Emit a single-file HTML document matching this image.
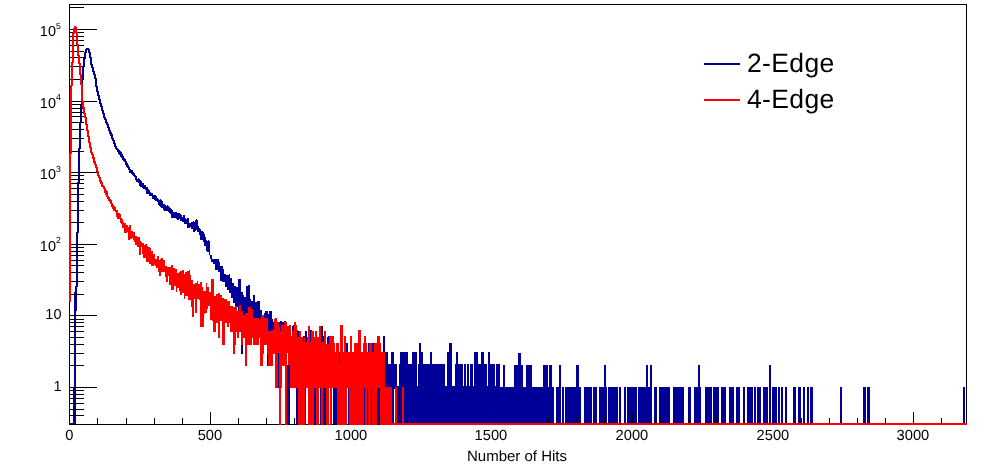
<!DOCTYPE html>
<html lang="en"><head><meta charset="utf-8"><title>Number of Hits</title>
<style>html,body{margin:0;padding:0;background:#fff;overflow:hidden}svg{display:block}</style>
</head><body>
<svg width="996" height="472" viewBox="0 0 996 472" shape-rendering="crispEdges">
<rect width="996" height="472" fill="#fff"/>
<g id="frame"><rect x="69" y="4" width="898" height="1" fill="#000"/><rect x="69" y="424" width="898" height="1" fill="#000"/><rect x="69" y="4" width="1" height="421" fill="#000"/><rect x="966" y="4" width="1" height="421" fill="#000"/></g>
<path id="h2edge" fill="#000099" d="M69 423h1v2h-1zM70 423h1v2h-1zM71 423h1v2h-1zM72 423h1v2h-1zM73 387h1v38h-1zM74 292h1v133h-1zM75 286h1v139h-1zM76 232h1v79h-1zM77 182h1v105h-1zM78 148h1v85h-1zM79 122h1v61h-1zM80 104h1v45h-1zM81 78h1v45h-1zM82 66h1v39h-1zM83 58h1v21h-1zM84 52h1v15h-1zM85 49h1v10h-1zM86 48h1v5h-1zM87 48h1v2h-1zM88 48h1v5h-1zM89 49h1v9h-1zM90 52h1v13h-1zM91 57h1v11h-1zM92 64h1v8h-1zM93 67h1v8h-1zM94 71h1v8h-1zM95 74h1v13h-1zM96 78h1v14h-1zM97 86h1v10h-1zM98 91h1v9h-1zM99 95h1v9h-1zM100 99h1v8h-1zM101 103h1v8h-1zM102 106h1v8h-1zM103 110h1v8h-1zM104 113h1v7h-1zM105 117h1v6h-1zM106 119h1v6h-1zM107 122h1v6h-1zM108 124h1v7h-1zM109 127h1v7h-1zM110 130h1v6h-1zM111 132h1v7h-1zM112 134h1v7h-1zM113 138h1v6h-1zM114 140h1v7h-1zM115 143h1v6h-1zM116 146h1v4h-1zM117 148h1v4h-1zM118 149h1v5h-1zM119 150h1v5h-1zM120 151h1v6h-1zM121 152h1v6h-1zM122 154h1v6h-1zM123 156h1v5h-1zM124 158h1v4h-1zM125 159h1v6h-1zM126 161h1v6h-1zM127 163h1v5h-1zM128 165h1v5h-1zM129 167h1v6h-1zM130 169h1v4h-1zM131 170h1v4h-1zM132 170h1v5h-1zM133 172h1v4h-1zM134 173h1v4h-1zM135 175h1v5h-1zM136 176h1v6h-1zM137 179h1v3h-1zM138 178h1v5h-1zM139 179h1v7h-1zM140 180h1v7h-1zM141 181h1v6h-1zM142 183h1v5h-1zM143 183h1v6h-1zM144 185h1v4h-1zM145 185h1v5h-1zM146 187h1v7h-1zM147 187h1v7h-1zM148 189h1v5h-1zM149 190h1v6h-1zM150 192h1v4h-1zM151 193h1v3h-1zM152 193h1v6h-1zM153 195h1v4h-1zM154 195h1v5h-1zM155 195h1v6h-1zM156 196h1v5h-1zM157 198h1v4h-1zM158 199h1v6h-1zM159 200h1v6h-1zM160 199h1v8h-1zM161 200h1v8h-1zM162 201h1v7h-1zM163 204h1v6h-1zM164 204h1v7h-1zM165 205h1v6h-1zM166 206h1v5h-1zM167 205h1v6h-1zM168 206h1v6h-1zM169 207h1v6h-1zM170 208h1v6h-1zM171 209h1v9h-1zM172 210h1v8h-1zM173 212h1v6h-1zM174 212h1v6h-1zM175 212h1v6h-1zM176 212h1v7h-1zM177 213h1v7h-1zM178 213h1v7h-1zM179 213h1v6h-1zM180 214h1v7h-1zM181 215h1v6h-1zM182 217h1v5h-1zM183 215h1v7h-1zM184 215h1v9h-1zM185 218h1v6h-1zM186 219h1v5h-1zM187 218h1v10h-1zM188 218h1v10h-1zM189 223h1v5h-1zM190 223h1v4h-1zM191 222h1v7h-1zM192 222h1v7h-1zM193 221h1v11h-1zM194 222h1v10h-1zM195 220h1v11h-1zM196 219h1v11h-1zM197 220h1v12h-1zM198 226h1v6h-1zM199 228h1v7h-1zM200 229h1v11h-1zM201 231h1v9h-1zM202 231h1v9h-1zM203 232h1v10h-1zM204 234h1v12h-1zM205 237h1v9h-1zM206 240h1v11h-1zM207 241h1v11h-1zM208 240h1v12h-1zM209 241h1v14h-1zM210 255h1v4h-1zM211 255h1v7h-1zM212 259h1v3h-1zM213 259h1v5h-1zM214 259h1v5h-1zM215 259h1v11h-1zM216 259h1v11h-1zM217 259h1v11h-1zM218 259h1v13h-1zM219 262h1v10h-1zM220 266h1v15h-1zM221 266h1v15h-1zM222 266h1v16h-1zM223 269h1v13h-1zM224 274h1v8h-1zM225 274h1v13h-1zM226 275h1v12h-1zM227 275h1v15h-1zM228 275h1v15h-1zM229 274h1v19h-1zM230 278h1v15h-1zM231 278h1v20h-1zM232 283h1v15h-1zM233 283h1v20h-1zM234 286h1v17h-1zM235 286h1v21h-1zM236 287h1v20h-1zM237 287h1v20h-1zM238 279h1v41h-1zM239 279h1v41h-1zM240 279h1v41h-1zM241 292h1v28h-1zM241 344h1v10h-1zM242 292h1v28h-1zM242 344h1v10h-1zM243 295h1v35h-1zM244 297h1v33h-1zM245 297h1v33h-1zM246 286h1v44h-1zM247 286h1v44h-1zM248 285h1v45h-1zM249 285h1v45h-1zM250 299h1v31h-1zM251 301h1v29h-1zM252 301h1v36h-1zM253 295h1v42h-1zM254 295h1v42h-1zM255 302h1v35h-1zM256 302h1v35h-1zM257 301h1v36h-1zM258 301h1v36h-1zM259 301h1v36h-1zM260 310h1v56h-1zM261 310h1v56h-1zM264 313h1v32h-1zM265 311h1v34h-1zM266 311h1v34h-1zM267 311h1v55h-1zM268 314h1v52h-1zM269 311h1v55h-1zM270 311h1v55h-1zM271 311h1v55h-1zM272 319h1v47h-1zM273 322h1v32h-1zM274 344h1v10h-1zM278 353h1v35h-1zM279 322h1v66h-1zM280 321h1v67h-1zM281 321h1v67h-1zM282 322h1v44h-1zM283 322h1v44h-1zM284 321h1v45h-1zM285 321h1v67h-1zM287 365h1v59h-1zM288 365h1v60h-1zM289 365h1v60h-1zM292 326h1v62h-1zM293 325h1v63h-1zM296 387h1v38h-1zM297 330h1v95h-1zM298 331h1v57h-1zM303 336h1v52h-1zM304 336h1v52h-1zM305 331h1v94h-1zM306 331h1v57h-1zM310 330h1v58h-1zM311 330h1v58h-1zM314 387h1v38h-1zM315 387h1v38h-1zM320 387h1v38h-1zM321 326h1v62h-1zM322 326h1v62h-1zM323 336h1v89h-1zM324 387h1v38h-1zM325 387h1v38h-1zM327 337h1v51h-1zM328 336h1v52h-1zM333 387h1v38h-1zM334 387h1v38h-1zM335 387h1v38h-1zM336 387h1v38h-1zM339 352h1v36h-1zM346 343h1v45h-1zM347 343h1v45h-1zM348 387h1v38h-1zM364 387h1v38h-1zM367 387h1v38h-1zM368 343h1v45h-1zM371 387h1v38h-1zM372 343h1v45h-1zM373 343h1v45h-1zM377 387h1v38h-1zM378 387h1v38h-1zM379 387h1v38h-1zM383 336h1v52h-1zM384 336h1v52h-1zM385 352h1v73h-1zM386 352h1v73h-1zM387 352h1v73h-1zM388 364h1v61h-1zM389 364h1v61h-1zM390 364h1v61h-1zM391 352h1v73h-1zM392 352h1v73h-1zM393 352h1v73h-1zM394 364h1v25h-1zM395 364h1v61h-1zM396 364h1v61h-1zM397 386h1v39h-1zM398 386h1v39h-1zM399 364h1v61h-1zM400 352h1v73h-1zM401 352h1v73h-1zM402 352h1v73h-1zM403 352h1v73h-1zM404 352h1v73h-1zM405 352h1v73h-1zM406 352h1v73h-1zM407 352h1v73h-1zM408 364h1v61h-1zM409 364h1v61h-1zM410 364h1v61h-1zM411 364h1v61h-1zM412 352h1v73h-1zM413 352h1v73h-1zM414 352h1v73h-1zM415 352h1v73h-1zM416 352h1v73h-1zM417 386h1v39h-1zM418 364h1v61h-1zM419 343h1v82h-1zM420 343h1v82h-1zM421 352h1v73h-1zM422 352h1v73h-1zM423 364h1v61h-1zM424 364h1v61h-1zM425 364h1v61h-1zM426 364h1v61h-1zM427 364h1v61h-1zM428 364h1v61h-1zM429 364h1v61h-1zM430 352h1v73h-1zM431 352h1v73h-1zM432 364h1v61h-1zM433 364h1v61h-1zM434 364h1v61h-1zM435 364h1v61h-1zM436 364h1v61h-1zM437 364h1v61h-1zM438 364h1v61h-1zM439 364h1v61h-1zM440 364h1v61h-1zM441 364h1v61h-1zM442 364h1v61h-1zM443 364h1v61h-1zM444 364h1v61h-1zM445 386h1v39h-1zM446 386h1v39h-1zM447 352h1v73h-1zM448 352h1v73h-1zM449 343h1v82h-1zM450 343h1v82h-1zM451 343h1v82h-1zM452 386h1v39h-1zM453 386h1v39h-1zM454 386h1v39h-1zM455 364h1v61h-1zM456 352h1v73h-1zM457 352h1v73h-1zM458 364h1v61h-1zM459 364h1v61h-1zM460 364h1v61h-1zM461 364h1v61h-1zM462 364h1v61h-1zM463 386h1v39h-1zM464 364h1v61h-1zM465 364h1v61h-1zM466 386h1v39h-1zM467 364h1v61h-1zM468 364h1v61h-1zM469 386h1v39h-1zM470 364h1v61h-1zM471 364h1v61h-1zM472 364h1v61h-1zM473 386h1v39h-1zM474 352h1v73h-1zM475 352h1v73h-1zM476 352h1v73h-1zM477 352h1v73h-1zM478 364h1v61h-1zM479 364h1v61h-1zM480 364h1v61h-1zM481 352h1v73h-1zM482 352h1v73h-1zM483 352h1v73h-1zM484 364h1v61h-1zM485 364h1v61h-1zM486 364h1v61h-1zM487 386h1v39h-1zM488 352h1v73h-1zM489 352h1v73h-1zM490 364h1v61h-1zM491 364h1v61h-1zM492 364h1v61h-1zM493 364h1v61h-1zM494 364h1v61h-1zM495 386h1v39h-1zM496 364h1v61h-1zM497 364h1v61h-1zM498 364h1v61h-1zM499 364h1v61h-1zM500 387h1v38h-1zM501 387h1v38h-1zM502 387h1v38h-1zM503 365h1v60h-1zM504 365h1v60h-1zM505 387h1v38h-1zM506 387h1v38h-1zM507 387h1v38h-1zM508 387h1v38h-1zM509 387h1v38h-1zM510 387h1v38h-1zM511 387h1v38h-1zM512 387h1v38h-1zM513 387h1v38h-1zM514 365h1v60h-1zM515 365h1v60h-1zM516 365h1v60h-1zM517 365h1v60h-1zM518 353h1v72h-1zM519 353h1v72h-1zM520 353h1v72h-1zM521 365h1v60h-1zM522 365h1v60h-1zM523 387h1v38h-1zM524 387h1v38h-1zM525 387h1v38h-1zM526 365h1v60h-1zM527 365h1v60h-1zM528 365h1v60h-1zM529 365h1v60h-1zM530 365h1v60h-1zM531 365h1v60h-1zM532 387h1v38h-1zM533 387h1v38h-1zM534 387h1v38h-1zM535 387h1v38h-1zM536 387h1v38h-1zM537 387h1v38h-1zM538 387h1v38h-1zM539 387h1v38h-1zM540 387h1v38h-1zM541 387h1v38h-1zM542 387h1v38h-1zM543 365h1v60h-1zM544 365h1v60h-1zM545 365h1v60h-1zM546 365h1v60h-1zM547 365h1v60h-1zM548 387h1v38h-1zM549 365h1v60h-1zM550 365h1v60h-1zM551 365h1v60h-1zM552 387h1v38h-1zM553 387h1v38h-1zM556 387h1v38h-1zM557 387h1v38h-1zM558 387h1v38h-1zM559 365h1v60h-1zM560 365h1v60h-1zM562 387h1v38h-1zM563 387h1v38h-1zM565 387h1v38h-1zM566 387h1v38h-1zM567 387h1v38h-1zM568 387h1v38h-1zM569 387h1v38h-1zM570 387h1v38h-1zM571 387h1v38h-1zM572 387h1v38h-1zM573 387h1v38h-1zM574 387h1v38h-1zM575 387h1v38h-1zM576 365h1v60h-1zM577 365h1v60h-1zM578 365h1v60h-1zM579 387h1v38h-1zM580 387h1v38h-1zM584 387h1v38h-1zM585 387h1v38h-1zM586 387h1v38h-1zM587 387h1v38h-1zM588 387h1v38h-1zM589 387h1v38h-1zM590 387h1v38h-1zM591 387h1v38h-1zM593 387h1v38h-1zM594 387h1v38h-1zM595 387h1v38h-1zM596 387h1v38h-1zM599 387h1v38h-1zM600 387h1v38h-1zM601 387h1v38h-1zM602 387h1v38h-1zM603 387h1v38h-1zM604 365h1v60h-1zM605 365h1v60h-1zM606 387h1v38h-1zM608 387h1v38h-1zM609 387h1v38h-1zM610 387h1v38h-1zM611 387h1v38h-1zM612 387h1v38h-1zM613 387h1v38h-1zM614 387h1v38h-1zM615 387h1v38h-1zM616 387h1v38h-1zM617 387h1v38h-1zM619 387h1v38h-1zM620 387h1v38h-1zM624 387h1v38h-1zM625 387h1v38h-1zM627 387h1v38h-1zM628 387h1v38h-1zM629 387h1v38h-1zM630 387h1v38h-1zM631 387h1v38h-1zM632 387h1v38h-1zM633 387h1v38h-1zM634 387h1v38h-1zM635 387h1v38h-1zM636 387h1v38h-1zM638 387h1v38h-1zM639 387h1v38h-1zM640 387h1v38h-1zM641 387h1v38h-1zM642 387h1v38h-1zM643 387h1v38h-1zM644 387h1v38h-1zM645 387h1v38h-1zM646 365h1v60h-1zM647 365h1v60h-1zM648 387h1v38h-1zM649 387h1v38h-1zM650 365h1v60h-1zM651 365h1v60h-1zM654 387h1v38h-1zM655 387h1v38h-1zM656 387h1v38h-1zM659 387h1v38h-1zM660 387h1v38h-1zM661 387h1v38h-1zM662 387h1v38h-1zM663 387h1v38h-1zM664 387h1v38h-1zM665 387h1v38h-1zM666 387h1v38h-1zM667 387h1v38h-1zM668 387h1v38h-1zM669 387h1v38h-1zM673 387h1v38h-1zM674 387h1v38h-1zM675 387h1v38h-1zM676 387h1v38h-1zM677 387h1v38h-1zM678 387h1v38h-1zM679 387h1v38h-1zM680 387h1v38h-1zM681 387h1v38h-1zM682 387h1v38h-1zM683 387h1v38h-1zM688 387h1v38h-1zM689 387h1v38h-1zM690 387h1v38h-1zM694 387h1v38h-1zM695 387h1v38h-1zM696 387h1v38h-1zM697 387h1v38h-1zM698 365h1v60h-1zM699 365h1v60h-1zM700 387h1v38h-1zM705 387h1v38h-1zM706 387h1v38h-1zM707 387h1v38h-1zM708 387h1v38h-1zM709 387h1v38h-1zM710 387h1v38h-1zM711 387h1v38h-1zM713 387h1v38h-1zM714 387h1v38h-1zM715 387h1v38h-1zM716 387h1v38h-1zM717 387h1v38h-1zM718 387h1v38h-1zM721 387h1v38h-1zM722 387h1v38h-1zM723 387h1v38h-1zM724 387h1v38h-1zM725 387h1v38h-1zM729 387h1v38h-1zM730 387h1v38h-1zM731 387h1v38h-1zM732 387h1v38h-1zM733 387h1v38h-1zM736 387h1v38h-1zM737 387h1v38h-1zM738 387h1v38h-1zM739 387h1v38h-1zM743 387h1v38h-1zM744 387h1v38h-1zM747 387h1v38h-1zM748 387h1v38h-1zM749 387h1v38h-1zM750 387h1v38h-1zM751 387h1v38h-1zM752 387h1v38h-1zM754 387h1v38h-1zM755 387h1v38h-1zM757 387h1v38h-1zM758 387h1v38h-1zM759 387h1v38h-1zM760 387h1v38h-1zM763 387h1v38h-1zM764 387h1v38h-1zM765 387h1v38h-1zM766 387h1v38h-1zM767 387h1v38h-1zM769 365h1v60h-1zM770 365h1v60h-1zM772 387h1v38h-1zM773 387h1v38h-1zM774 387h1v38h-1zM775 387h1v38h-1zM776 387h1v38h-1zM778 387h1v38h-1zM779 387h1v38h-1zM781 387h1v38h-1zM782 387h1v38h-1zM785 387h1v38h-1zM786 387h1v38h-1zM793 387h1v38h-1zM794 387h1v38h-1zM795 387h1v38h-1zM798 387h1v38h-1zM799 387h1v38h-1zM800 387h1v38h-1zM803 387h1v38h-1zM804 387h1v38h-1zM807 387h1v38h-1zM808 387h1v38h-1zM810 387h1v38h-1zM811 387h1v38h-1zM812 387h1v38h-1zM840 387h1v38h-1zM841 387h1v38h-1zM863 387h1v38h-1zM864 387h1v38h-1zM865 387h1v38h-1zM867 387h1v38h-1zM868 387h1v38h-1zM869 387h1v38h-1zM963 387h1v38h-1zM964 387h1v38h-1z"/>
<g id="axis"><rect x="69" y="4" width="1" height="421" fill="#000"/><rect x="69" y="424" width="898" height="1" fill="#000"/><rect x="70" y="415" width="14" height="1" fill="#000"/><rect x="70" y="409" width="14" height="1" fill="#000"/><rect x="70" y="403" width="14" height="1" fill="#000"/><rect x="70" y="398" width="14" height="1" fill="#000"/><rect x="70" y="394" width="14" height="1" fill="#000"/><rect x="70" y="390" width="14" height="1" fill="#000"/><rect x="70" y="387" width="27" height="1" fill="#000"/><rect x="70" y="365" width="14" height="1" fill="#000"/><rect x="70" y="353" width="14" height="1" fill="#000"/><rect x="70" y="344" width="14" height="1" fill="#000"/><rect x="70" y="337" width="14" height="1" fill="#000"/><rect x="70" y="331" width="14" height="1" fill="#000"/><rect x="70" y="326" width="14" height="1" fill="#000"/><rect x="70" y="322" width="14" height="1" fill="#000"/><rect x="70" y="319" width="14" height="1" fill="#000"/><rect x="70" y="315" width="27" height="1" fill="#000"/><rect x="70" y="294" width="14" height="1" fill="#000"/><rect x="70" y="281" width="14" height="1" fill="#000"/><rect x="70" y="272" width="14" height="1" fill="#000"/><rect x="70" y="265" width="14" height="1" fill="#000"/><rect x="70" y="260" width="14" height="1" fill="#000"/><rect x="70" y="255" width="14" height="1" fill="#000"/><rect x="70" y="251" width="14" height="1" fill="#000"/><rect x="70" y="247" width="14" height="1" fill="#000"/><rect x="70" y="244" width="27" height="1" fill="#000"/><rect x="70" y="222" width="14" height="1" fill="#000"/><rect x="70" y="210" width="14" height="1" fill="#000"/><rect x="70" y="201" width="14" height="1" fill="#000"/><rect x="70" y="194" width="14" height="1" fill="#000"/><rect x="70" y="188" width="14" height="1" fill="#000"/><rect x="70" y="183" width="14" height="1" fill="#000"/><rect x="70" y="179" width="14" height="1" fill="#000"/><rect x="70" y="175" width="14" height="1" fill="#000"/><rect x="70" y="172" width="27" height="1" fill="#000"/><rect x="70" y="151" width="14" height="1" fill="#000"/><rect x="70" y="138" width="14" height="1" fill="#000"/><rect x="70" y="129" width="14" height="1" fill="#000"/><rect x="70" y="122" width="14" height="1" fill="#000"/><rect x="70" y="116" width="14" height="1" fill="#000"/><rect x="70" y="112" width="14" height="1" fill="#000"/><rect x="70" y="108" width="14" height="1" fill="#000"/><rect x="70" y="104" width="14" height="1" fill="#000"/><rect x="70" y="101" width="27" height="1" fill="#000"/><rect x="70" y="79" width="14" height="1" fill="#000"/><rect x="70" y="66" width="14" height="1" fill="#000"/><rect x="70" y="57" width="14" height="1" fill="#000"/><rect x="70" y="51" width="14" height="1" fill="#000"/><rect x="70" y="45" width="14" height="1" fill="#000"/><rect x="70" y="40" width="14" height="1" fill="#000"/><rect x="70" y="36" width="14" height="1" fill="#000"/><rect x="70" y="32" width="14" height="1" fill="#000"/><rect x="70" y="29" width="27" height="1" fill="#000"/><rect x="70" y="7" width="14" height="1" fill="#000"/><rect x="69" y="412" width="1" height="12" fill="#000"/><rect x="97" y="418" width="1" height="6" fill="#000"/><rect x="126" y="418" width="1" height="6" fill="#000"/><rect x="154" y="418" width="1" height="6" fill="#000"/><rect x="182" y="418" width="1" height="6" fill="#000"/><rect x="210" y="412" width="1" height="12" fill="#000"/><rect x="238" y="418" width="1" height="6" fill="#000"/><rect x="266" y="418" width="1" height="6" fill="#000"/><rect x="294" y="418" width="1" height="6" fill="#000"/><rect x="322" y="418" width="1" height="6" fill="#000"/><rect x="351" y="412" width="1" height="12" fill="#000"/><rect x="379" y="418" width="1" height="6" fill="#000"/><rect x="407" y="418" width="1" height="6" fill="#000"/><rect x="435" y="418" width="1" height="6" fill="#000"/><rect x="463" y="418" width="1" height="6" fill="#000"/><rect x="491" y="412" width="1" height="12" fill="#000"/><rect x="519" y="418" width="1" height="6" fill="#000"/><rect x="548" y="418" width="1" height="6" fill="#000"/><rect x="576" y="418" width="1" height="6" fill="#000"/><rect x="604" y="418" width="1" height="6" fill="#000"/><rect x="632" y="412" width="1" height="12" fill="#000"/><rect x="660" y="418" width="1" height="6" fill="#000"/><rect x="688" y="418" width="1" height="6" fill="#000"/><rect x="716" y="418" width="1" height="6" fill="#000"/><rect x="744" y="418" width="1" height="6" fill="#000"/><rect x="773" y="412" width="1" height="12" fill="#000"/><rect x="801" y="418" width="1" height="6" fill="#000"/><rect x="829" y="418" width="1" height="6" fill="#000"/><rect x="857" y="418" width="1" height="6" fill="#000"/><rect x="885" y="418" width="1" height="6" fill="#000"/><rect x="913" y="412" width="1" height="12" fill="#000"/><rect x="941" y="418" width="1" height="6" fill="#000"/></g>
<path id="h4edge" fill="#ff0000" d="M69 153h1v149h-1zM70 85h1v217h-1zM71 62h1v92h-1zM72 33h1v53h-1zM73 28h1v35h-1zM74 26h1v8h-1zM75 26h1v7h-1zM76 27h1v18h-1zM77 32h1v24h-1zM78 44h1v20h-1zM79 55h1v20h-1zM80 63h1v22h-1zM81 74h1v28h-1zM82 84h1v24h-1zM83 101h1v13h-1zM84 107h1v11h-1zM85 113h1v12h-1zM86 117h1v14h-1zM87 124h1v13h-1zM88 130h1v13h-1zM89 136h1v12h-1zM90 142h1v11h-1zM91 147h1v8h-1zM92 152h1v7h-1zM93 154h1v9h-1zM94 157h1v8h-1zM95 161h1v7h-1zM96 164h1v8h-1zM97 167h1v9h-1zM98 171h1v7h-1zM99 175h1v7h-1zM100 177h1v7h-1zM101 180h1v7h-1zM102 182h1v5h-1zM103 185h1v4h-1zM104 186h1v7h-1zM105 188h1v7h-1zM106 190h1v7h-1zM107 191h1v8h-1zM108 196h1v5h-1zM109 197h1v5h-1zM110 199h1v5h-1zM111 200h1v7h-1zM112 203h1v6h-1zM113 205h1v6h-1zM114 206h1v5h-1zM115 207h1v5h-1zM116 210h1v7h-1zM117 210h1v9h-1zM118 213h1v6h-1zM119 213h1v6h-1zM120 214h1v9h-1zM121 218h1v6h-1zM122 219h1v9h-1zM123 222h1v6h-1zM124 223h1v10h-1zM125 223h1v10h-1zM126 225h1v8h-1zM127 225h1v7h-1zM128 227h1v13h-1zM129 225h1v15h-1zM130 225h1v14h-1zM131 231h1v8h-1zM132 231h1v7h-1zM133 232h1v8h-1zM134 232h1v10h-1zM135 236h1v9h-1zM136 236h1v9h-1zM137 237h1v10h-1zM138 237h1v10h-1zM139 237h1v18h-1zM140 241h1v14h-1zM141 242h1v5h-1zM142 243h1v11h-1zM143 243h1v15h-1zM144 245h1v13h-1zM145 244h1v14h-1zM146 244h1v18h-1zM147 246h1v16h-1zM148 247h1v15h-1zM149 247h1v17h-1zM150 248h1v16h-1zM151 251h1v15h-1zM152 251h1v15h-1zM153 254h1v12h-1zM154 254h1v11h-1zM155 259h1v7h-1zM156 259h1v9h-1zM157 256h1v12h-1zM158 256h1v16h-1zM159 260h1v16h-1zM160 259h1v17h-1zM161 258h1v14h-1zM162 258h1v14h-1zM163 260h1v12h-1zM164 260h1v12h-1zM165 266h1v11h-1zM166 266h1v16h-1zM167 267h1v15h-1zM168 267h1v9h-1zM169 267h1v18h-1zM170 267h1v18h-1zM171 265h1v25h-1zM172 265h1v25h-1zM173 268h1v22h-1zM174 268h1v18h-1zM175 269h1v17h-1zM176 269h1v23h-1zM177 273h1v15h-1zM178 273h1v15h-1zM179 272h1v19h-1zM180 271h1v24h-1zM181 271h1v24h-1zM182 270h1v23h-1zM183 270h1v23h-1zM184 274h1v25h-1zM185 272h1v24h-1zM186 272h1v24h-1zM187 271h1v25h-1zM188 271h1v29h-1zM189 270h1v30h-1zM190 275h1v25h-1zM191 280h1v27h-1zM192 280h1v37h-1zM193 284h1v33h-1zM194 284h1v15h-1zM195 283h1v30h-1zM196 283h1v30h-1zM197 281h1v18h-1zM198 284h1v15h-1zM199 284h1v16h-1zM200 282h1v45h-1zM201 282h1v45h-1zM202 287h1v40h-1zM203 291h1v36h-1zM204 291h1v23h-1zM205 291h1v22h-1zM206 283h1v30h-1zM207 287h1v22h-1zM208 287h1v19h-1zM209 292h1v14h-1zM210 292h1v28h-1zM211 279h1v41h-1zM212 279h1v42h-1zM213 279h1v53h-1zM214 296h1v36h-1zM215 296h1v36h-1zM216 294h1v29h-1zM217 294h1v29h-1zM218 293h1v45h-1zM219 293h1v45h-1zM220 295h1v26h-1zM221 295h1v26h-1zM222 298h1v47h-1zM223 298h1v47h-1zM224 299h1v46h-1zM225 299h1v24h-1zM226 299h1v24h-1zM227 301h1v26h-1zM228 301h1v26h-1zM229 301h1v22h-1zM230 306h1v26h-1zM231 306h1v26h-1zM232 306h1v26h-1zM233 307h1v47h-1zM234 307h1v47h-1zM235 306h1v39h-1zM236 306h1v26h-1zM237 311h1v27h-1zM238 311h1v27h-1zM239 305h1v27h-1zM240 305h1v27h-1zM241 311h1v34h-1zM242 311h1v34h-1zM243 315h1v23h-1zM244 315h1v23h-1zM245 313h1v53h-1zM246 313h1v53h-1zM247 313h1v32h-1zM248 307h1v38h-1zM249 307h1v38h-1zM250 307h1v38h-1zM251 309h1v36h-1zM252 309h1v29h-1zM253 318h1v27h-1zM254 318h1v27h-1zM255 318h1v27h-1zM256 318h1v27h-1zM257 318h1v27h-1zM258 318h1v27h-1zM259 321h1v17h-1zM260 319h1v47h-1zM261 315h1v51h-1zM262 315h1v51h-1zM263 315h1v39h-1zM264 318h1v27h-1zM265 318h1v27h-1zM266 318h1v27h-1zM267 318h1v36h-1zM268 331h1v35h-1zM269 331h1v35h-1zM270 331h1v35h-1zM271 330h1v36h-1zM272 330h1v36h-1zM273 330h1v24h-1zM274 319h1v35h-1zM275 318h1v70h-1zM276 318h1v70h-1zM277 322h1v66h-1zM278 322h1v31h-1zM279 326h1v99h-1zM280 331h1v94h-1zM281 325h1v63h-1zM282 325h1v41h-1zM283 325h1v41h-1zM284 322h1v44h-1zM285 322h1v103h-1zM286 322h1v103h-1zM287 326h1v27h-1zM288 326h1v39h-1zM289 325h1v40h-1zM290 325h1v63h-1zM291 336h1v52h-1zM292 331h1v57h-1zM293 331h1v57h-1zM294 322h1v66h-1zM295 322h1v66h-1zM296 325h1v63h-1zM297 337h1v51h-1zM298 337h1v88h-1zM299 331h1v94h-1zM300 331h1v94h-1zM301 337h1v88h-1zM302 337h1v88h-1zM303 342h1v83h-1zM304 337h1v88h-1zM305 342h1v46h-1zM306 342h1v46h-1zM307 337h1v51h-1zM308 326h1v99h-1zM309 326h1v99h-1zM310 342h1v83h-1zM311 331h1v94h-1zM312 331h1v94h-1zM313 331h1v94h-1zM314 337h1v51h-1zM315 331h1v57h-1zM316 331h1v94h-1zM317 337h1v88h-1zM318 337h1v88h-1zM319 326h1v62h-1zM320 326h1v62h-1zM321 342h1v83h-1zM322 342h1v83h-1zM323 342h1v46h-1zM324 331h1v57h-1zM325 331h1v57h-1zM326 344h1v81h-1zM327 344h1v81h-1zM328 344h1v81h-1zM329 336h1v52h-1zM330 336h1v89h-1zM331 336h1v89h-1zM332 336h1v52h-1zM333 336h1v52h-1zM334 343h1v45h-1zM335 352h1v36h-1zM336 343h1v45h-1zM337 343h1v82h-1zM338 343h1v82h-1zM339 364h1v61h-1zM340 325h1v100h-1zM341 325h1v100h-1zM342 325h1v100h-1zM343 352h1v73h-1zM344 336h1v89h-1zM345 336h1v89h-1zM346 352h1v73h-1zM347 352h1v36h-1zM348 352h1v36h-1zM349 352h1v73h-1zM350 336h1v89h-1zM351 336h1v89h-1zM352 352h1v73h-1zM353 352h1v73h-1zM354 343h1v82h-1zM355 343h1v82h-1zM356 343h1v82h-1zM357 343h1v82h-1zM358 330h1v95h-1zM359 330h1v95h-1zM360 330h1v95h-1zM361 352h1v73h-1zM362 352h1v73h-1zM363 343h1v82h-1zM364 336h1v52h-1zM365 336h1v89h-1zM366 343h1v82h-1zM367 352h1v36h-1zM368 352h1v73h-1zM369 343h1v82h-1zM370 343h1v82h-1zM371 343h1v45h-1zM372 352h1v73h-1zM373 352h1v73h-1zM374 343h1v82h-1zM375 343h1v82h-1zM376 343h1v82h-1zM377 336h1v52h-1zM378 336h1v52h-1zM379 336h1v52h-1zM380 343h1v82h-1zM381 352h1v73h-1zM382 352h1v73h-1zM383 352h1v73h-1zM384 352h1v73h-1zM385 387h1v38h-1zM386 387h1v38h-1zM387 387h1v38h-1zM388 387h1v38h-1zM389 387h1v38h-1zM390 387h1v38h-1zM391 387h1v38h-1zM392 423h1v2h-1zM393 423h1v2h-1zM394 423h1v2h-1zM395 387h1v38h-1zM396 387h1v38h-1zM397 423h1v2h-1zM398 423h1v2h-1zM399 423h1v2h-1zM400 423h1v2h-1zM401 423h1v2h-1zM402 387h1v38h-1zM403 387h1v38h-1zM404 423h1v2h-1zM405 423h1v2h-1zM406 423h1v2h-1zM407 423h1v2h-1zM408 423h1v2h-1zM409 423h1v2h-1zM410 423h1v2h-1zM411 423h1v2h-1zM412 423h1v2h-1zM413 423h1v2h-1zM414 423h1v2h-1zM415 423h1v2h-1zM416 423h1v2h-1zM417 423h1v2h-1zM418 423h1v2h-1zM419 423h1v2h-1zM420 423h1v2h-1zM421 423h1v2h-1zM422 423h1v2h-1zM423 423h1v2h-1zM424 423h1v2h-1zM425 423h1v2h-1zM426 423h1v2h-1zM427 423h1v2h-1zM428 423h1v2h-1zM429 423h1v2h-1zM430 423h1v2h-1zM431 423h1v2h-1zM432 423h1v2h-1zM433 423h1v2h-1zM434 423h1v2h-1zM435 423h1v2h-1zM436 423h1v2h-1zM437 423h1v2h-1zM438 423h1v2h-1zM439 423h1v2h-1zM440 423h1v2h-1zM441 423h1v2h-1zM442 423h1v2h-1zM443 423h1v2h-1zM444 423h1v2h-1zM445 423h1v2h-1zM446 423h1v2h-1zM447 423h1v2h-1zM448 423h1v2h-1zM449 423h1v2h-1zM450 423h1v2h-1zM451 423h1v2h-1zM452 423h1v2h-1zM453 423h1v2h-1zM454 423h1v2h-1zM455 423h1v2h-1zM456 423h1v2h-1zM457 423h1v2h-1zM458 423h1v2h-1zM459 423h1v2h-1zM460 423h1v2h-1zM461 423h1v2h-1zM462 423h1v2h-1zM463 423h1v2h-1zM464 423h1v2h-1zM465 423h1v2h-1zM466 423h1v2h-1zM467 423h1v2h-1zM468 423h1v2h-1zM469 423h1v2h-1zM470 423h1v2h-1zM471 423h1v2h-1zM472 423h1v2h-1zM473 423h1v2h-1zM474 423h1v2h-1zM475 423h1v2h-1zM476 423h1v2h-1zM477 423h1v2h-1zM478 423h1v2h-1zM479 423h1v2h-1zM480 423h1v2h-1zM481 423h1v2h-1zM482 423h1v2h-1zM483 423h1v2h-1zM484 423h1v2h-1zM485 423h1v2h-1zM486 423h1v2h-1zM487 423h1v2h-1zM488 423h1v2h-1zM489 423h1v2h-1zM490 423h1v2h-1zM491 423h1v2h-1zM492 423h1v2h-1zM493 423h1v2h-1zM494 423h1v2h-1zM495 423h1v2h-1zM496 423h1v2h-1zM497 423h1v2h-1zM498 423h1v2h-1zM499 423h1v2h-1zM500 423h1v2h-1zM501 423h1v2h-1zM502 423h1v2h-1zM503 423h1v2h-1zM504 423h1v2h-1zM505 423h1v2h-1zM506 423h1v2h-1zM507 423h1v2h-1zM508 423h1v2h-1zM509 423h1v2h-1zM510 423h1v2h-1zM511 423h1v2h-1zM512 423h1v2h-1zM513 423h1v2h-1zM514 423h1v2h-1zM515 423h1v2h-1zM516 423h1v2h-1zM517 423h1v2h-1zM518 423h1v2h-1zM519 423h1v2h-1zM520 423h1v2h-1zM521 423h1v2h-1zM522 423h1v2h-1zM523 423h1v2h-1zM524 423h1v2h-1zM525 423h1v2h-1zM526 423h1v2h-1zM527 423h1v2h-1zM528 423h1v2h-1zM529 423h1v2h-1zM530 423h1v2h-1zM531 423h1v2h-1zM532 423h1v2h-1zM533 423h1v2h-1zM534 423h1v2h-1zM535 423h1v2h-1zM536 423h1v2h-1zM537 423h1v2h-1zM538 423h1v2h-1zM539 423h1v2h-1zM540 423h1v2h-1zM541 423h1v2h-1zM542 423h1v2h-1zM543 423h1v2h-1zM544 423h1v2h-1zM545 423h1v2h-1zM546 423h1v2h-1zM547 423h1v2h-1zM548 423h1v2h-1zM549 423h1v2h-1zM550 423h1v2h-1zM551 423h1v2h-1zM552 423h1v2h-1zM553 423h1v2h-1zM554 423h1v2h-1zM555 423h1v2h-1zM556 423h1v2h-1zM557 423h1v2h-1zM558 423h1v2h-1zM559 423h1v2h-1zM560 423h1v2h-1zM561 423h1v2h-1zM562 423h1v2h-1zM563 423h1v2h-1zM564 423h1v2h-1zM565 423h1v2h-1zM566 423h1v2h-1zM567 423h1v2h-1zM568 423h1v2h-1zM569 423h1v2h-1zM570 423h1v2h-1zM571 423h1v2h-1zM572 423h1v2h-1zM573 423h1v2h-1zM574 423h1v2h-1zM575 423h1v2h-1zM576 423h1v2h-1zM577 423h1v2h-1zM578 423h1v2h-1zM579 423h1v2h-1zM580 423h1v2h-1zM581 423h1v2h-1zM582 423h1v2h-1zM583 423h1v2h-1zM584 423h1v2h-1zM585 423h1v2h-1zM586 423h1v2h-1zM587 423h1v2h-1zM588 423h1v2h-1zM589 423h1v2h-1zM590 423h1v2h-1zM591 423h1v2h-1zM592 423h1v2h-1zM593 423h1v2h-1zM594 423h1v2h-1zM595 423h1v2h-1zM596 423h1v2h-1zM597 423h1v2h-1zM598 423h1v2h-1zM599 423h1v2h-1zM600 423h1v2h-1zM601 423h1v2h-1zM602 423h1v2h-1zM603 423h1v2h-1zM604 423h1v2h-1zM605 423h1v2h-1zM606 423h1v2h-1zM607 423h1v2h-1zM608 423h1v2h-1zM609 423h1v2h-1zM610 423h1v2h-1zM611 423h1v2h-1zM612 423h1v2h-1zM613 423h1v2h-1zM614 423h1v2h-1zM615 423h1v2h-1zM616 423h1v2h-1zM617 423h1v2h-1zM618 423h1v2h-1zM619 423h1v2h-1zM620 423h1v2h-1zM621 423h1v2h-1zM622 423h1v2h-1zM623 423h1v2h-1zM624 423h1v2h-1zM625 423h1v2h-1zM626 423h1v2h-1zM627 423h1v2h-1zM628 423h1v2h-1zM629 423h1v2h-1zM630 423h1v2h-1zM631 423h1v2h-1zM632 423h1v2h-1zM633 423h1v2h-1zM634 423h1v2h-1zM635 423h1v2h-1zM636 423h1v2h-1zM637 423h1v2h-1zM638 423h1v2h-1zM639 423h1v2h-1zM640 423h1v2h-1zM641 423h1v2h-1zM642 423h1v2h-1zM643 423h1v2h-1zM644 423h1v2h-1zM645 423h1v2h-1zM646 423h1v2h-1zM647 423h1v2h-1zM648 423h1v2h-1zM649 423h1v2h-1zM650 423h1v2h-1zM651 423h1v2h-1zM652 423h1v2h-1zM653 423h1v2h-1zM654 423h1v2h-1zM655 423h1v2h-1zM656 423h1v2h-1zM657 423h1v2h-1zM658 423h1v2h-1zM659 423h1v2h-1zM660 423h1v2h-1zM661 423h1v2h-1zM662 423h1v2h-1zM663 423h1v2h-1zM664 423h1v2h-1zM665 423h1v2h-1zM666 423h1v2h-1zM667 423h1v2h-1zM668 423h1v2h-1zM669 423h1v2h-1zM670 423h1v2h-1zM671 423h1v2h-1zM672 423h1v2h-1zM673 423h1v2h-1zM674 423h1v2h-1zM675 423h1v2h-1zM676 423h1v2h-1zM677 423h1v2h-1zM678 423h1v2h-1zM679 423h1v2h-1zM680 423h1v2h-1zM681 423h1v2h-1zM682 423h1v2h-1zM683 423h1v2h-1zM684 423h1v2h-1zM685 423h1v2h-1zM686 423h1v2h-1zM687 423h1v2h-1zM688 423h1v2h-1zM689 423h1v2h-1zM690 423h1v2h-1zM691 423h1v2h-1zM692 423h1v2h-1zM693 423h1v2h-1zM694 423h1v2h-1zM695 423h1v2h-1zM696 423h1v2h-1zM697 423h1v2h-1zM698 423h1v2h-1zM699 423h1v2h-1zM700 423h1v2h-1zM701 423h1v2h-1zM702 423h1v2h-1zM703 423h1v2h-1zM704 423h1v2h-1zM705 423h1v2h-1zM706 423h1v2h-1zM707 423h1v2h-1zM708 423h1v2h-1zM709 423h1v2h-1zM710 423h1v2h-1zM711 423h1v2h-1zM712 423h1v2h-1zM713 423h1v2h-1zM714 423h1v2h-1zM715 423h1v2h-1zM716 423h1v2h-1zM717 423h1v2h-1zM718 423h1v2h-1zM719 423h1v2h-1zM720 423h1v2h-1zM721 423h1v2h-1zM722 423h1v2h-1zM723 423h1v2h-1zM724 423h1v2h-1zM725 423h1v2h-1zM726 423h1v2h-1zM727 423h1v2h-1zM728 423h1v2h-1zM729 423h1v2h-1zM730 423h1v2h-1zM731 423h1v2h-1zM732 423h1v2h-1zM733 423h1v2h-1zM734 423h1v2h-1zM735 423h1v2h-1zM736 423h1v2h-1zM737 423h1v2h-1zM738 423h1v2h-1zM739 423h1v2h-1zM740 423h1v2h-1zM741 423h1v2h-1zM742 423h1v2h-1zM743 423h1v2h-1zM744 423h1v2h-1zM745 423h1v2h-1zM746 423h1v2h-1zM747 423h1v2h-1zM748 423h1v2h-1zM749 423h1v2h-1zM750 423h1v2h-1zM751 423h1v2h-1zM752 423h1v2h-1zM753 423h1v2h-1zM754 423h1v2h-1zM755 423h1v2h-1zM756 423h1v2h-1zM757 423h1v2h-1zM758 423h1v2h-1zM759 423h1v2h-1zM760 423h1v2h-1zM761 423h1v2h-1zM762 423h1v2h-1zM763 423h1v2h-1zM764 423h1v2h-1zM765 423h1v2h-1zM766 423h1v2h-1zM767 423h1v2h-1zM768 423h1v2h-1zM769 423h1v2h-1zM770 423h1v2h-1zM771 423h1v2h-1zM772 423h1v2h-1zM773 423h1v2h-1zM774 423h1v2h-1zM775 423h1v2h-1zM776 423h1v2h-1zM777 423h1v2h-1zM778 423h1v2h-1zM779 423h1v2h-1zM780 423h1v2h-1zM781 423h1v2h-1zM782 423h1v2h-1zM783 423h1v2h-1zM784 423h1v2h-1zM785 423h1v2h-1zM786 423h1v2h-1zM787 423h1v2h-1zM788 423h1v2h-1zM789 423h1v2h-1zM790 423h1v2h-1zM791 423h1v2h-1zM792 423h1v2h-1zM793 423h1v2h-1zM794 423h1v2h-1zM795 423h1v2h-1zM796 423h1v2h-1zM797 423h1v2h-1zM798 423h1v2h-1zM799 423h1v2h-1zM800 423h1v2h-1zM801 423h1v2h-1zM802 423h1v2h-1zM803 423h1v2h-1zM804 423h1v2h-1zM805 423h1v2h-1zM806 423h1v2h-1zM807 423h1v2h-1zM808 423h1v2h-1zM809 423h1v2h-1zM810 423h1v2h-1zM811 423h1v2h-1zM812 423h1v2h-1zM813 423h1v2h-1zM814 423h1v2h-1zM815 423h1v2h-1zM816 423h1v2h-1zM817 423h1v2h-1zM818 423h1v2h-1zM819 423h1v2h-1zM820 423h1v2h-1zM821 423h1v2h-1zM822 423h1v2h-1zM823 423h1v2h-1zM824 423h1v2h-1zM825 423h1v2h-1zM826 423h1v2h-1zM827 423h1v2h-1zM828 423h1v2h-1zM829 423h1v2h-1zM830 423h1v2h-1zM831 423h1v2h-1zM832 423h1v2h-1zM833 423h1v2h-1zM834 423h1v2h-1zM835 423h1v2h-1zM836 423h1v2h-1zM837 423h1v2h-1zM838 423h1v2h-1zM839 423h1v2h-1zM840 423h1v2h-1zM841 423h1v2h-1zM842 423h1v2h-1zM843 423h1v2h-1zM844 423h1v2h-1zM845 423h1v2h-1zM846 423h1v2h-1zM847 423h1v2h-1zM848 423h1v2h-1zM849 423h1v2h-1zM850 423h1v2h-1zM851 423h1v2h-1zM852 423h1v2h-1zM853 423h1v2h-1zM854 423h1v2h-1zM855 423h1v2h-1zM856 423h1v2h-1zM857 423h1v2h-1zM858 423h1v2h-1zM859 423h1v2h-1zM860 423h1v2h-1zM861 423h1v2h-1zM862 423h1v2h-1zM863 423h1v2h-1zM864 423h1v2h-1zM865 423h1v2h-1zM866 423h1v2h-1zM867 423h1v2h-1zM868 423h1v2h-1zM869 423h1v2h-1zM870 423h1v2h-1zM871 423h1v2h-1zM872 423h1v2h-1zM873 423h1v2h-1zM874 423h1v2h-1zM875 423h1v2h-1zM876 423h1v2h-1zM877 423h1v2h-1zM878 423h1v2h-1zM879 423h1v2h-1zM880 423h1v2h-1zM881 423h1v2h-1zM882 423h1v2h-1zM883 423h1v2h-1zM884 423h1v2h-1zM885 423h1v2h-1zM886 423h1v2h-1zM887 423h1v2h-1zM888 423h1v2h-1zM889 423h1v2h-1zM890 423h1v2h-1zM891 423h1v2h-1zM892 423h1v2h-1zM893 423h1v2h-1zM894 423h1v2h-1zM895 423h1v2h-1zM896 423h1v2h-1zM897 423h1v2h-1zM898 423h1v2h-1zM899 423h1v2h-1zM900 423h1v2h-1zM901 423h1v2h-1zM902 423h1v2h-1zM903 423h1v2h-1zM904 423h1v2h-1zM905 423h1v2h-1zM906 423h1v2h-1zM907 423h1v2h-1zM908 423h1v2h-1zM909 423h1v2h-1zM910 423h1v2h-1zM911 423h1v2h-1zM912 423h1v2h-1zM913 423h1v2h-1zM914 423h1v2h-1zM915 423h1v2h-1zM916 423h1v2h-1zM917 423h1v2h-1zM918 423h1v2h-1zM919 423h1v2h-1zM920 423h1v2h-1zM921 423h1v2h-1zM922 423h1v2h-1zM923 423h1v2h-1zM924 423h1v2h-1zM925 423h1v2h-1zM926 423h1v2h-1zM927 423h1v2h-1zM928 423h1v2h-1zM929 423h1v2h-1zM930 423h1v2h-1zM931 423h1v2h-1zM932 423h1v2h-1zM933 423h1v2h-1zM934 423h1v2h-1zM935 423h1v2h-1zM936 423h1v2h-1zM937 423h1v2h-1zM938 423h1v2h-1zM939 423h1v2h-1zM940 423h1v2h-1zM941 423h1v2h-1zM942 423h1v2h-1zM943 423h1v2h-1zM944 423h1v2h-1zM945 423h1v2h-1zM946 423h1v2h-1zM947 423h1v2h-1zM948 423h1v2h-1zM949 423h1v2h-1zM950 423h1v2h-1zM951 423h1v2h-1zM952 423h1v2h-1zM953 423h1v2h-1zM954 423h1v2h-1zM955 423h1v2h-1zM956 423h1v2h-1zM957 423h1v2h-1zM958 423h1v2h-1zM959 423h1v2h-1zM960 423h1v2h-1zM961 423h1v2h-1zM962 423h1v2h-1zM963 423h1v2h-1zM964 423h1v2h-1zM965 423h1v2h-1zM966 423h1v2h-1z"/>
<g id="legend"><rect x="704" y="63" width="36" height="2" fill="#000099"/><rect x="704" y="99" width="36" height="2" fill="#ff0000"/></g>
<g id="labels" font-family='"Liberation Sans", Arial, Helvetica, sans-serif' fill="#000" text-rendering="geometricPrecision"><text x="69.40" y="439.8" font-size="14.7" text-anchor="middle">0</text><text x="209.90" y="439.8" font-size="14.7" text-anchor="middle">500</text><text x="350.90" y="439.8" font-size="14.7" text-anchor="middle">1000</text><text x="490.90" y="439.8" font-size="14.7" text-anchor="middle">1500</text><text x="631.90" y="439.8" font-size="14.7" text-anchor="middle">2000</text><text x="772.90" y="439.8" font-size="14.7" text-anchor="middle">2500</text><text x="912.90" y="439.8" font-size="14.7" text-anchor="middle">3000</text><text x="517.0" y="461" font-size="15" text-anchor="middle">Number of Hits</text><text x="61.5" y="391.10" font-size="14.5" text-anchor="end">1</text><text x="61.5" y="319.10" font-size="14.5" text-anchor="end">10</text><text x="60.9" y="250.70" font-size="14.5" text-anchor="end">10<tspan dy="-7.3" font-size="8.8">2</tspan></text><text x="60.9" y="179.10" font-size="14.5" text-anchor="end">10<tspan dy="-7.3" font-size="8.8">3</tspan></text><text x="60.9" y="107.50" font-size="14.5" text-anchor="end">10<tspan dy="-7.3" font-size="8.8">4</tspan></text><text x="60.9" y="35.90" font-size="14.5" text-anchor="end">10<tspan dy="-7.3" font-size="8.8">5</tspan></text><text x="747" y="72" font-size="26.5" letter-spacing="0.35">2-Edge</text><text x="747" y="108" font-size="26.5" letter-spacing="0.35">4-Edge</text></g>
</svg>
</body></html>
